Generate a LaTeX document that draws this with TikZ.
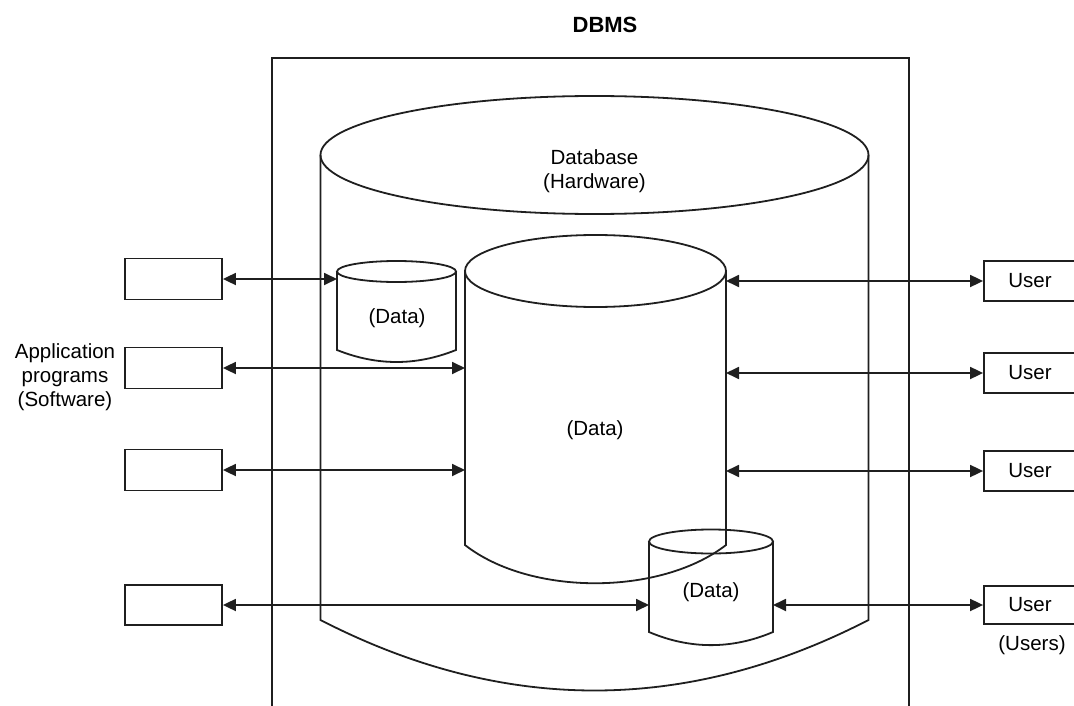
\documentclass[tikz,border=0pt]{standalone}
\usepackage{fontspec}
\setmainfont{Liberation Sans}
\usetikzlibrary{arrows.meta}
\begin{document}
\begin{tikzpicture}[x=1pt,y=-1pt,
  line/.style={line width=1.8pt, draw=black!88},
  lbox/.style={draw=black!88, line width=1.8pt, minimum width=97pt, minimum height=41pt, inner sep=0pt},
  ubox/.style={draw=black!88, line width=1.8pt, minimum width=92pt, minimum height=40pt, inner sep=0pt, font=\fontsize{20.5}{24}\selectfont},
  lbl/.style={font=\fontsize{20.5}{24}\selectfont, inner sep=0pt, align=center},
  link/.style={line width=1.8pt, draw=black!88, {Triangle[length=13pt,width=12pt]}-{Triangle[length=13pt,width=12pt]}}
]
\useasboundingbox (0,0) rectangle (1074,706);

% title
\node[font=\fontsize{22}{26}\selectfont\bfseries, inner sep=0pt] (title) at (605,25) {DBMS};

% outer DBMS frame (open at the bottom)
\draw[line] (272,706) -- (272,58) -- (909,58) -- (909,706);

% big database cylinder
\draw[line] (594.5,155) ellipse [x radius=274, y radius=59];
\draw[line] (320.5,155) -- (320.5,620) .. controls (503,714) and (686,714) .. (868.5,620) -- (868.5,155);
\node[lbl] (dbtext) at (594.5,171) {Database\\(Hardware)};

% middle data cylinder
\draw[line] (595.5,271) ellipse [x radius=130.5, y radius=36];
\draw[line] (465,271) -- (465,545) .. controls (530,596) and (660,596) .. (726,545) -- (726,271);
\node[lbl] (mdata) at (595,430) {(Data)};

% small left data cylinder
\draw[line] (396.5,271.5) ellipse [x radius=59.5, y radius=10.5];
\draw[line] (337,271.5) -- (337,350) .. controls (377,366) and (416,366) .. (456,350) -- (456,271.5);
\node[lbl] (ldata) at (397,318) {(Data)};

% small right data cylinder
\draw[line] (711,541.5) ellipse [x radius=62, y radius=12];
\draw[line] (649,541.5) -- (649,632) .. controls (690,649.5) and (732,649.5) .. (773,632) -- (773,541.5);
\node[lbl] (rdata) at (711,592) {(Data)};

% side anchors of the cylinders
\coordinate (sdL) at (337,0);
\coordinate (mcL) at (465,0);
\coordinate (mcR) at (726,0);
\coordinate (sdRl) at (649,0);
\coordinate (sdRr) at (773,0);

% application program boxes
\node[lbox] (L1) at (173.5,279) {};
\node[lbox] (L2) at (173.5,368) {};
\node[lbox] (L3) at (173.5,470) {};
\node[lbox, minimum height=40pt] (L4) at (173.5,605) {};
\node[lbl] (apptext) at (65,377) {Application\\programs\\(Software)};

% user boxes
\node[ubox] (U1) at (1030,281) {User};
\node[ubox] (U2) at (1030,373) {User};
\node[ubox] (U3) at (1030,471) {User};
\node[ubox, minimum height=38pt] (U4) at (1030,605) {User};
\node[lbl] (userstext) at (1032,645) {(Users)};

% connectors
\draw[link] (L1.east) -- (L1.east -| sdL);
\draw[link] (L2.east) -- (L2.east -| mcL);
\draw[link] (L3.east) -- (L3.east -| mcL);
\draw[link] (L4.east) -- (L4.east -| sdRl);
\draw[link] (U1.west) -- (U1.west -| mcR);
\draw[link] (U2.west) -- (U2.west -| mcR);
\draw[link] (U3.west) -- (U3.west -| mcR);
\draw[link] (U4.west) -- (U4.west -| sdRr);
\end{tikzpicture}
\end{document}
